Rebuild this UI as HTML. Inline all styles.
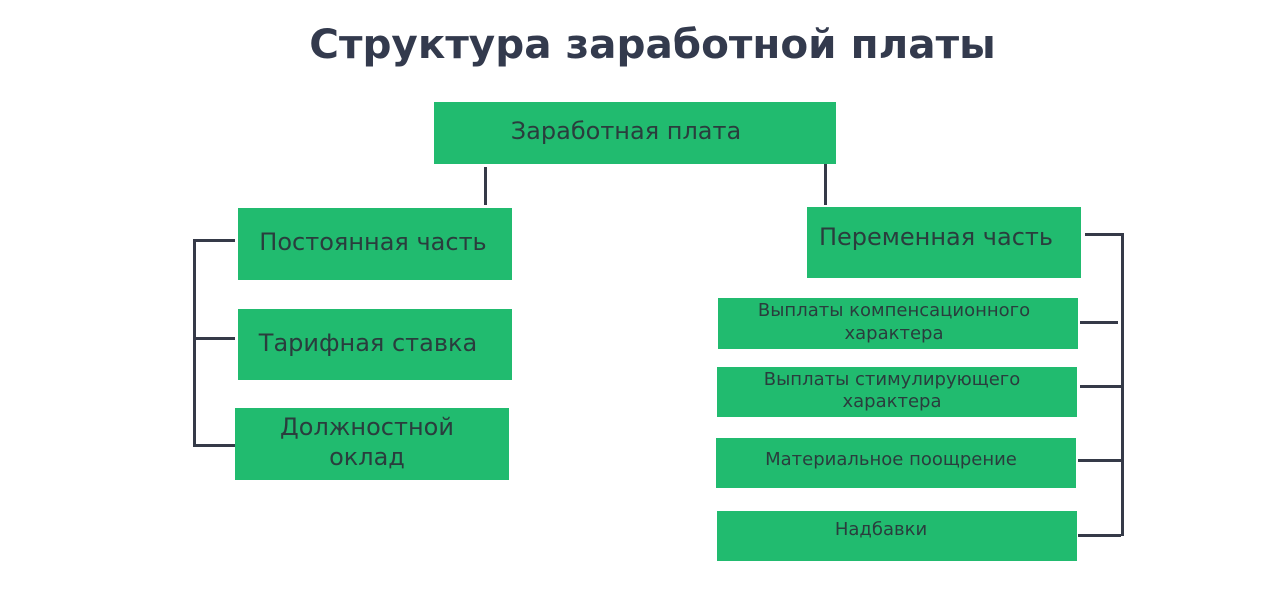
<!DOCTYPE html>
<html><head><meta charset="utf-8"><style>
body{margin:0;width:1280px;height:596px;background:#fff;position:relative;font-family:"DejaVu Sans","Liberation Sans",sans-serif;overflow:hidden}
.t{position:absolute;left:0;width:1305px;top:20px;text-align:center;font-size:40.5px;font-weight:bold;color:#333a4d}
.b{position:absolute;background:#21bb6f;color:#2a3d3d;display:flex;align-items:center;justify-content:center;text-align:center;line-height:1.25;white-space:nowrap}
.l{position:absolute;background:#353a48}
</style></head><body>
<div class="t">Структура заработной платы</div>
<div class="b" style="left:434px;top:102px;width:402px;height:62px;font-size:24px"><span style="position:relative;left:-9px;top:-2px">Заработная плата</span></div>
<div class="b" style="left:238px;top:208px;width:274px;height:72px;font-size:24px"><span style="position:relative;left:-2px;top:-2px">Постоянная часть</span></div>
<div class="b" style="left:238px;top:309px;width:274px;height:71px;font-size:24px"><span style="position:relative;left:-7px;top:-2px">Тарифная ставка</span></div>
<div class="b" style="left:235px;top:408px;width:274px;height:72px;font-size:24px"><span style="position:relative;left:-5px;top:-2px">Должностной<br>оклад</span></div>
<div class="b" style="left:807px;top:207px;width:274px;height:71px;font-size:24px"><span style="position:relative;left:-8px;top:-6px">Переменная часть</span></div>
<div class="b" style="left:718px;top:298px;width:360px;height:51px;font-size:18px"><span style="position:relative;left:-4px;top:-1px">Выплаты компенсационного<br>характера</span></div>
<div class="b" style="left:717px;top:367px;width:360px;height:50px;font-size:18px"><span style="position:relative;left:-5px;top:-1px">Выплаты стимулирующего<br>характера</span></div>
<div class="b" style="left:716px;top:438px;width:360px;height:50px;font-size:18px"><span style="position:relative;left:-5px;top:-3px">Материальное поощрение</span></div>
<div class="b" style="left:717px;top:511px;width:360px;height:50px;font-size:18px"><span style="position:relative;left:-16px;top:-6px">Надбавки</span></div>
<div class="l" style="left:484px;top:167px;width:3px;height:38px"></div>
<div class="l" style="left:824px;top:164px;width:3px;height:41px"></div>
<div class="l" style="left:193px;top:239px;width:3px;height:207px"></div>
<div class="l" style="left:193px;top:239px;width:42px;height:3px"></div>
<div class="l" style="left:193px;top:337px;width:42px;height:3px"></div>
<div class="l" style="left:193px;top:444px;width:42px;height:3px"></div>
<div class="l" style="left:1121px;top:233px;width:3px;height:303px"></div>
<div class="l" style="left:1085px;top:233px;width:38px;height:3px"></div>
<div class="l" style="left:1080px;top:321px;width:38px;height:3px"></div>
<div class="l" style="left:1080px;top:385px;width:41px;height:3px"></div>
<div class="l" style="left:1078px;top:459px;width:43px;height:3px"></div>
<div class="l" style="left:1078px;top:534px;width:43px;height:3px"></div>
</body></html>
